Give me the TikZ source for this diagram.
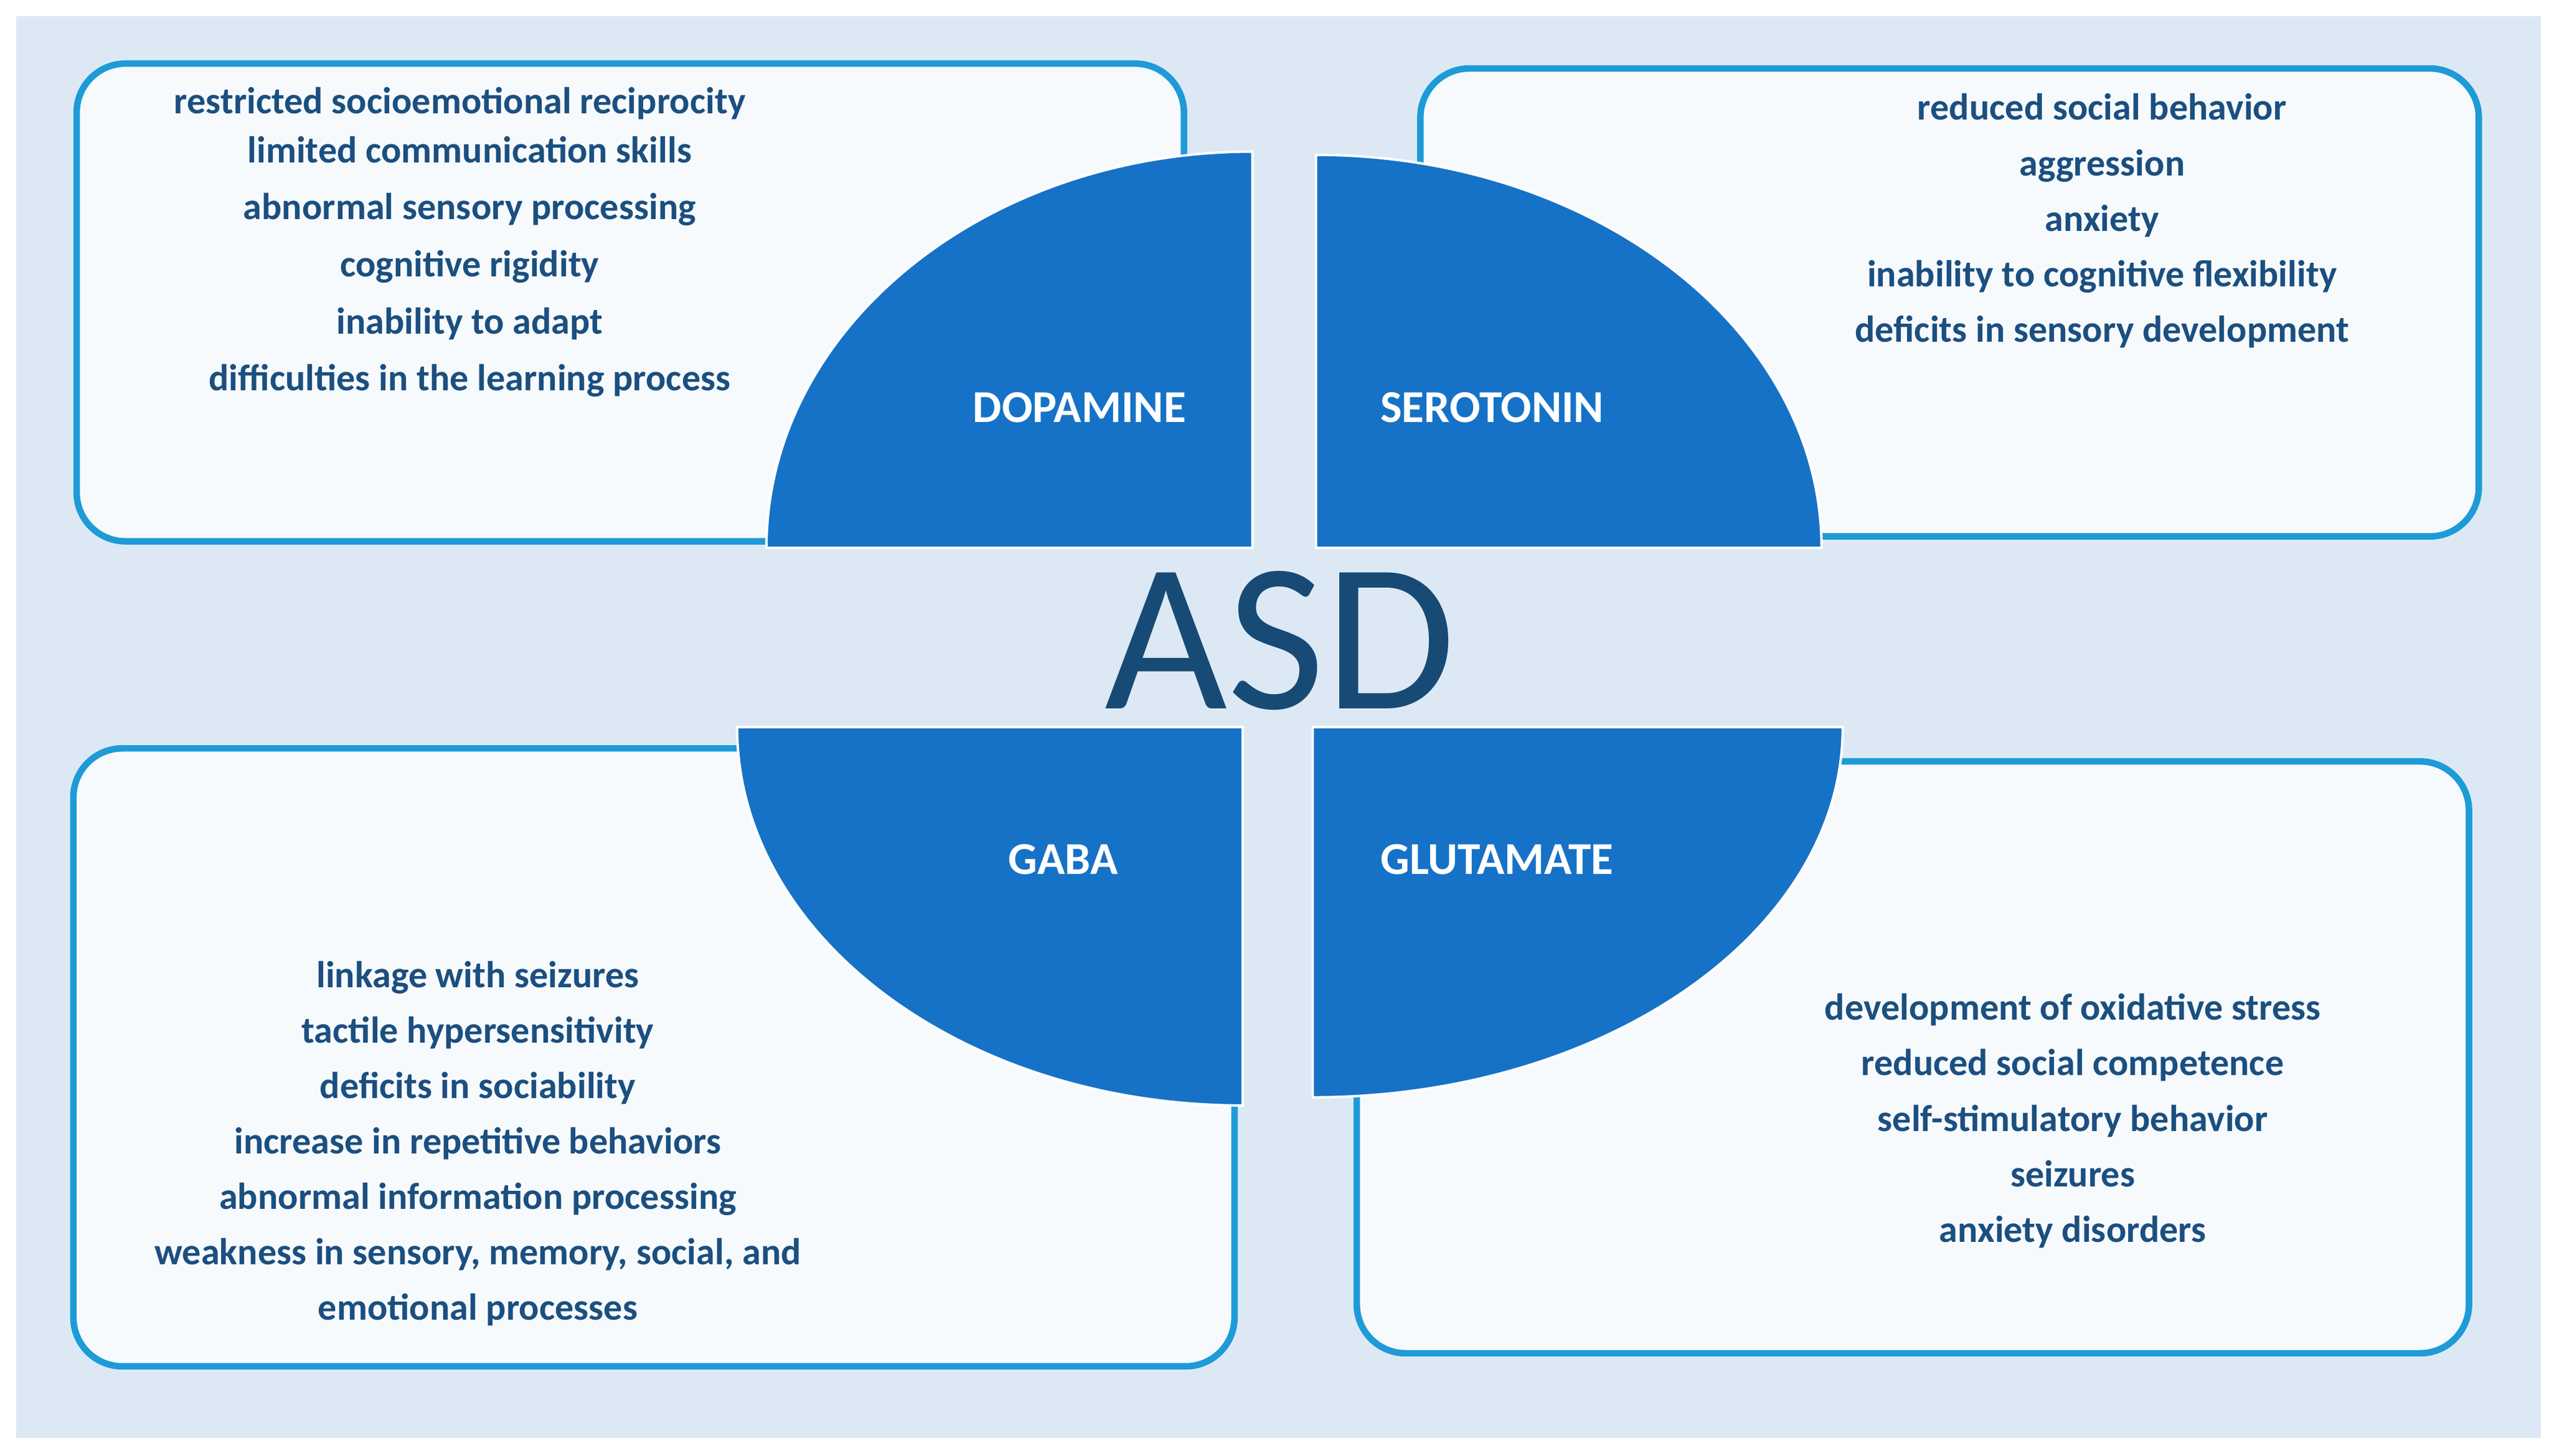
\documentclass[tikz,border=0pt]{standalone}
\usepackage{fontspec}
\setmainfont{Carlito}
\begin{document}
\begin{tikzpicture}[x=1pt,y=-1pt,
  box/.style={draw=boxline,line width=4pt,fill=boxfill,rounded corners=30pt},
  quad/.style={fill=quadblue,draw=white,line width=1.5pt},
  qlab/.style={text=white,font=\bfseries\fontsize{28}{32}\selectfont},
  txt/.style={text=txtblue,font=\bfseries\fontsize{23}{34}\selectfont,align=center,anchor=north}]
\definecolor{bg}{HTML}{DCE9F5}
\definecolor{boxline}{HTML}{1E9BD7}
\definecolor{boxfill}{HTML}{F7FAFD}
\definecolor{quadblue}{HTML}{1672C6}
\definecolor{txtblue}{HTML}{1B4F80}
\definecolor{asd}{HTML}{174A75}
\useasboundingbox (0,0) rectangle (1568,893);
\fill[white] (0,0) rectangle (1568,893);
\fill[bg] (10,10) rectangle (1558,882);
\node[box,minimum width=679pt,minimum height=293pt,anchor=north west] (btl) at (45,37) {};
\node[box,minimum width=649pt,minimum height=287pt,anchor=north west] (btr) at (869,40) {};
\node[box,minimum width=712pt,minimum height=379pt,anchor=north west] (bbl) at (43,457) {};
\node[box,minimum width=682pt,minimum height=363pt,anchor=north west] (bbr) at (830,465) {};
\path[quad] (768,336) -- (470,336) arc[start angle=180,end angle=90,x radius=298,y radius=-243] -- cycle;
\path[quad] (807,336) -- (1117,336) arc[start angle=0,end angle=90,x radius=310,y radius=-241] -- cycle;
\path[quad] (762,446) -- (452,446) arc[start angle=180,end angle=270,x radius=310,y radius=-232] -- cycle;
\path[quad] (805,446) -- (1130,446) arc[start angle=0,end angle=-90,x radius=325,y radius=-227] -- cycle;
\node[qlab] (dop) at (662,250) {DOPAMINE};
\node[qlab] (ser) at (915,250) {SEROTONIN};
\node[qlab] (gaba) at (652,527) {GABA};
\node[qlab] (glu) at (918,527) {GLUTAMATE};
\node[text=asd,font=\fontsize{130}{130}\selectfont] (asd) at (785,393) {ASD};
\node[txt] (ttl1) at (282,50) {restricted socioemotional reciprocity};
\node[txt,font=\bfseries\fontsize{23}{35}\selectfont] (ttl2) at (288,80) {limited communication skills\\abnormal sensory processing\\cognitive rigidity\\inability to adapt\\difficulties in the learning process};
\node[txt] (ttr) at (1289,54) {reduced social behavior\\aggression\\anxiety\\inability to cognitive flexibility\\deficits in sensory development};
\node[txt] (tbl) at (293,586) {linkage with seizures\\tactile hypersensitivity\\deficits in sociability\\increase in repetitive behaviors\\abnormal information processing\\weakness in sensory, memory, social, and\\emotional processes};
\node[txt] (tbr) at (1271,606) {development of oxidative stress\\reduced social competence\\self-stimulatory behavior\\seizures\\anxiety disorders};
\end{tikzpicture}
\end{document}
